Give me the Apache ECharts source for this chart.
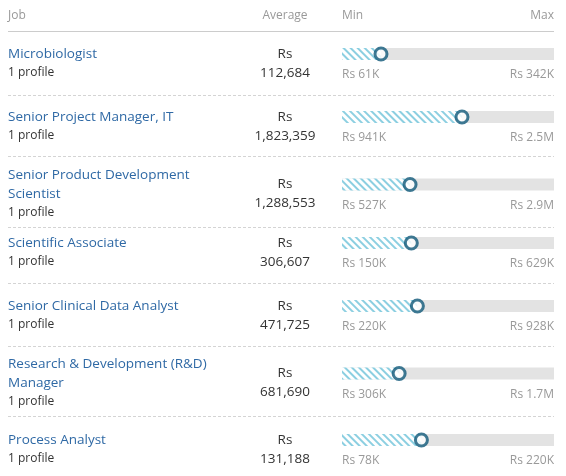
<!DOCTYPE html>
<html>
<head>
<meta charset="utf-8">
<style>
html,body{margin:0;padding:0;background:#fff;}
#chart{width:566px;height:476px;}
</style>
<script src="https://cdn.jsdelivr.net/npm/echarts@6/dist/echarts.min.js"></script>
</head>
<body>
<div id="chart"></div>
<script>
// ---- data ----
var jobs = ['Microbiologist', 'Senior Project Manager, IT', 'Senior Product Development Scientist',
  'Scientific Associate', 'Senior Clinical Data Analyst', 'Research & Development (R&D) Manager', 'Process Analyst'];
var profiles = ['1 profile', '1 profile', '1 profile', '1 profile', '1 profile', '1 profile', '1 profile'];
var averages = [112684, 1823359, 1288553, 306607, 471725, 681690, 131188];
var minVals = [61000, 941000, 527000, 150000, 220000, 306000, 78000];
var maxVals = [342000, 2500000, 2900000, 629000, 928000, 1700000, 220000];
var headers = ['Job', 'Average', 'Min', 'Max'];
var currency = 'Rs';

// ---- layout (positions only) ----
var titleY = [54, 117, 175, 243, 306, 364, 440];
var sepY = [95, 156, 227, 283, 346, 416];
var FONT = "'Open Sans', sans-serif";
var LH = 19;

function fmtShort(v) {
  if (v >= 1000000) return (v / 1000000).toFixed(1).replace(/\.0$/, '') + 'M';
  return Math.round(v / 1000) + 'K';
}
function fmtNum(v) { return v.toString().replace(/\B(?=(\d{3})+(?!\d))/g, ','); }

var chart = echarts.init(document.getElementById('chart'), null, {renderer: 'canvas'});

var grids = [], xAxes = [], yAxes = [], series = [], graphics = [];

// header
graphics.push({type: 'text', x: 8, y: 16, style: {text: headers[0], font: '12px ' + FONT, fill: '#999', align: 'left', verticalAlign: 'middle'}});
graphics.push({type: 'text', x: 285, y: 16, style: {text: headers[1], font: '12px ' + FONT, fill: '#999', align: 'center', verticalAlign: 'middle'}});
graphics.push({type: 'text', x: 342, y: 16, style: {text: headers[2], font: '12px ' + FONT, fill: '#999', align: 'left', verticalAlign: 'middle'}});
graphics.push({type: 'text', x: 554, y: 16, style: {text: headers[3], font: '12px ' + FONT, fill: '#999', align: 'right', verticalAlign: 'middle'}});
graphics.push({type: 'line', shape: {x1: 8, y1: 31.5, x2: 554, y2: 31.5}, style: {stroke: '#cccccc', lineWidth: 1}});

sepY.forEach(function (y) {
  graphics.push({type: 'line', shape: {x1: 8, y1: y + 0.5, x2: 554, y2: y + 0.5},
    style: {stroke: '#d4d4d4', lineWidth: 1, lineDash: [3, 2]}});
});

jobs.forEach(function (job, i) {
  var ty = titleY[i];
  var title = job;
  var lines = 1;
  if (job === 'Senior Product Development Scientist') { title = 'Senior Product Development\nScientist'; lines = 2; }
  if (job === 'Research & Development (R&D) Manager') { title = 'Research & Development (R&D)\nManager'; lines = 2; }
  graphics.push({type: 'text', x: 8, y: ty - LH / 2, style: {text: title, font: '13.5px ' + FONT, fill: '#2f69a5',
    align: 'left', verticalAlign: 'top', lineHeight: LH}});
  graphics.push({type: 'text', x: 8, y: ty + LH * lines, style: {text: profiles[i], font: '12px ' + FONT, fill: '#333',
    align: 'left', verticalAlign: 'middle'}});
  var rsY = ty + (lines - 1) * 9.5;
  graphics.push({type: 'text', x: 285, y: rsY, style: {text: currency, font: '13.5px ' + FONT, fill: '#333',
    align: 'center', verticalAlign: 'middle'}});
  graphics.push({type: 'text', x: 285, y: rsY + LH, style: {text: fmtNum(averages[i]), font: '13.5px ' + FONT, fill: '#333',
    align: 'center', verticalAlign: 'middle'}});

  grids.push({left: 342, right: 12, top: rsY - 6, height: 12});
  xAxes.push({
    type: 'value', gridIndex: i, min: minVals[i], max: maxVals[i], interval: maxVals[i] - minVals[i],
    axisLine: {show: false}, axisTick: {show: false}, splitLine: {show: false},
    axisLabel: {
      margin: 9, color: '#999', fontSize: 12, fontFamily: FONT,
      alignMinLabel: 'left', alignMaxLabel: 'right',
      formatter: function (v) { return currency + ' ' + fmtShort(v); }
    }
  });
  yAxes.push({type: 'category', gridIndex: i, data: [job], show: false});
  series.push({
    type: 'bar', xAxisIndex: i, yAxisIndex: i, data: [averages[i]], barWidth: 12, clip: true,
    showBackground: true, backgroundStyle: {color: '#e3e3e3'},
    itemStyle: {color: '#ffffff', decal: {symbol: 'rect', color: '#8ccfe1', dashArrayX: [1, 0], dashArrayY: [1.2, 2.2], rotation: Math.PI / 4}},
    silent: true, animation: false
  });
  series.push({
    type: 'scatter', xAxisIndex: i, yAxisIndex: i, data: [[averages[i], job]], symbol: 'circle', symbolSize: 12,
    itemStyle: {color: '#ffffff', borderColor: '#0f5878', borderWidth: 3}, z: 5, silent: true, animation: false
  });
});

chart.setOption({
  animation: false,
  grid: grids, xAxis: xAxes, yAxis: yAxes, series: series, graphic: graphics
});
</script>
</body>
</html>
